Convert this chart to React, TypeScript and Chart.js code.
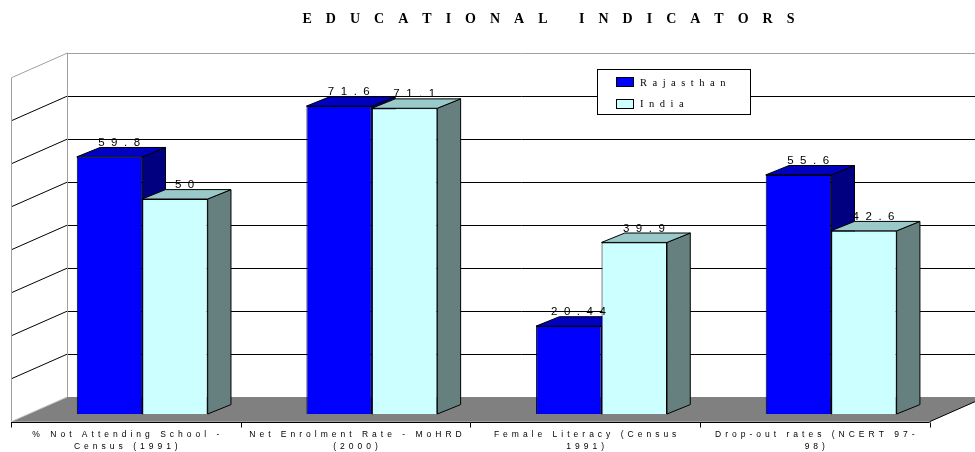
import React, { useEffect, useRef } from "react";
import { Chart, registerables } from "chart.js";

Chart.register(...registerables);

// ---------- data ----------
const TITLE = "EDUCATIONAL INDICATORS";
const CATEGORIES: string[][] = [
  ["% Not Attending School -", "Census (1991)"],
  ["Net Enrolment Rate - MoHRD", "(2000)"],
  ["Female Literacy (Census", "1991)"],
  ["Drop-out rates (NCERT 97-", "98)"],
];
const SERIES_NAMES = ["Rajasthan", "India"];
const RAJASTHAN = [59.8, 71.6, 20.44, 55.6];
const INDIA = [50, 71.1, 39.9, 42.6];
const Y_MIN = 0;
const Y_MAX = 80;
const Y_STEP = 10;

// ---------- styles / geometry ----------
const W = 975;
const H = 452;
const DEPTH = { dx: 23.3, dy: -9.4 }; // bar depth
const FRONT = { dx: -16.4, dy: 7.7 }; // floor front edge relative to bar plane
const BACK = { dx: 39.6, dy: -17 }; // back wall relative to bar plane
const FACES = [
  { front: "#0000FF", top: "#0000C0", side: "#000080" },
  { front: "#CCFFFF", top: "#99C9C9", side: "#668080" },
];
const SANS = "'Liberation Sans', Arial, sans-serif";
const SERIF = "'Liberation Serif', 'Times New Roman', serif";

function spacedWidth(ctx: CanvasRenderingContext2D, text: string, spacing: number) {
  const chars = Array.from(text);
  const widths = chars.map((c) => ctx.measureText(c).width);
  return { chars, widths, total: widths.reduce((a, b) => a + b, 0) + spacing * (chars.length - 1) };
}

function drawSpaced(
  ctx: CanvasRenderingContext2D,
  text: string,
  x: number,
  baseline: number,
  spacing: number,
  align: "left" | "center"
) {
  const { chars, widths, total } = spacedWidth(ctx, text, spacing);
  let xx = align === "center" ? x - total / 2 : x;
  ctx.textAlign = "left";
  ctx.textBaseline = "alphabetic";
  chars.forEach((c, i) => {
    ctx.fillText(c, xx, baseline);
    xx += widths[i] + spacing;
  });
}

function line(ctx: CanvasRenderingContext2D, x1: number, y1: number, x2: number, y2: number, color: string) {
  ctx.beginPath();
  ctx.strokeStyle = color;
  ctx.lineWidth = 1;
  ctx.moveTo(x1, y1);
  ctx.lineTo(x2, y2);
  ctx.stroke();
}

function poly(ctx: CanvasRenderingContext2D, pts: number[][], fill: string, stroke?: string) {
  ctx.beginPath();
  ctx.moveTo(pts[0][0], pts[0][1]);
  for (let i = 1; i < pts.length; i++) ctx.lineTo(pts[i][0], pts[i][1]);
  ctx.closePath();
  ctx.fillStyle = fill;
  ctx.fill();
  if (stroke) {
    ctx.strokeStyle = stroke;
    ctx.lineWidth = 1;
    ctx.stroke();
  }
}

const px = (v: number) => Math.round(v) + 0.5;

const scenePlugin = {
  id: "scene3d",
  beforeDatasetsDraw(chart: any) {
    const ctx: CanvasRenderingContext2D = chart.ctx;
    const area = chart.chartArea;
    const ys = chart.scales.y;
    const y0 = ys.getPixelForValue(Y_MIN);
    const yTop = ys.getPixelForValue(Y_MAX);
    const bl = area.left + BACK.dx;
    const fl = area.left + FRONT.dx;
    ctx.save();

    // floor
    poly(
      ctx,
      [
        [fl, y0 + FRONT.dy],
        [area.right + FRONT.dx, y0 + FRONT.dy],
        [area.right + BACK.dx, y0 + BACK.dy],
        [bl, y0 + BACK.dy],
      ],
      "#808080"
    );

    // gridlines on back and left walls
    for (let v = Y_MIN + Y_STEP; v <= Y_MAX; v += Y_STEP) {
      const yy = ys.getPixelForValue(v);
      const isTop = v === Y_MAX;
      const col = isTop ? "#a0a0a0" : "#000000";
      line(ctx, px(bl), px(yy + BACK.dy), W, px(yy + BACK.dy), col);
      line(ctx, px(bl), yy + BACK.dy, px(fl), yy + FRONT.dy, col);
    }
    // wall edges
    line(ctx, px(bl), yTop + BACK.dy, px(bl), y0 + BACK.dy, "#a0a0a0");
    line(ctx, px(fl), yTop + FRONT.dy, px(fl), y0 + FRONT.dy, "#a0a0a0");
    line(ctx, fl, y0 + FRONT.dy, bl, y0 + BACK.dy, "#c8c8c8");
    line(ctx, area.right + FRONT.dx, y0 + FRONT.dy, area.right + BACK.dx, y0 + BACK.dy, "#000000");

    // front axis line & ticks
    const fy = px(y0 + FRONT.dy);
    line(ctx, fl, fy, area.right + FRONT.dx, fy, "#000000");
    const n = CATEGORIES.length;
    const step = (area.right - area.left) / n;
    for (let i = 0; i <= n; i++) {
      const tx = px(area.left + i * step + FRONT.dx);
      line(ctx, tx, fy, tx, fy + 5, "#000000");
    }

    // 3D extrusions (top and side faces) of each bar
    for (let c = 0; c < n; c++) {
      chart.data.datasets.forEach((_: any, d: number) => {
        const el = chart.getDatasetMeta(d).data[c];
        if (!el) return;
        const { x, y, base, width } = el.getProps(["x", "y", "base", "width"], true);
        const l = x - width / 2;
        const r = x + width / 2;
        poly(
          ctx,
          [
            [r, base],
            [r, y],
            [r + DEPTH.dx, y + DEPTH.dy],
            [r + DEPTH.dx, base + DEPTH.dy],
          ],
          FACES[d].side,
          "#000000"
        );
        poly(
          ctx,
          [
            [l, y],
            [r, y],
            [r + DEPTH.dx, y + DEPTH.dy],
            [l + DEPTH.dx, y + DEPTH.dy],
          ],
          FACES[d].top,
          "#000000"
        );
      });
    }
    ctx.restore();
  },
  afterDatasetsDraw(chart: any) {
    const ctx: CanvasRenderingContext2D = chart.ctx;
    const xs = chart.scales.x;
    const ys = chart.scales.y;
    const y0 = ys.getPixelForValue(Y_MIN);
    ctx.save();

    // value labels
    ctx.fillStyle = "#000000";
    ctx.font = `11.5px ${SANS}`;
    chart.data.datasets.forEach((ds: any, d: number) => {
      chart.getDatasetMeta(d).data.forEach((el: any, i: number) => {
        const { x, y } = el.getProps(["x", "y"], true);
        drawSpaced(ctx, String(ds.data[i]), x + DEPTH.dx / 2 - 2, y + DEPTH.dy - 1.5, 6.5, "center");
      });
    });

    // category labels
    ctx.font = `8.5px ${SANS}`;
    CATEGORIES.forEach((lines, i) => {
      const cx = xs.getPixelForValue(i) + FRONT.dx;
      lines.forEach((t, k) => {
        drawSpaced(ctx, t, cx, y0 + FRONT.dy + 15 + k * 12.6, 4, "center");
      });
    });

    // legend
    const lx = 597.5;
    const ly = 69.5;
    ctx.fillStyle = "#ffffff";
    ctx.fillRect(lx, ly, 153, 45);
    ctx.strokeStyle = "#000000";
    ctx.lineWidth = 1;
    ctx.strokeRect(lx, ly, 153, 45);
    ctx.font = `10.5px ${SERIF}`;
    SERIES_NAMES.forEach((name, k) => {
      const sy = 77.5 + k * 22;
      ctx.fillStyle = FACES[k].front;
      ctx.fillRect(616.5, sy, 17, 9);
      ctx.strokeStyle = "#000000";
      ctx.strokeRect(616.5, sy, 17, 9);
      ctx.fillStyle = "#000000";
      drawSpaced(ctx, name, 640, 85.5 + k * 21.5, 5.5, "left");
    });

    // title
    ctx.font = `bold 14px ${SERIF}`;
    ctx.fillStyle = "#000000";
    drawSpaced(ctx, TITLE, 548.5, 22.5, 14, "center");
    ctx.restore();
  },
};

export default function App() {
  const ref = useRef<HTMLCanvasElement | null>(null);
  useEffect(() => {
    if (!ref.current) return;
    const chart = new Chart(ref.current, {
      type: "bar",
      data: {
        labels: CATEGORIES.map((c) => c.join(" ")),
        datasets: [
          {
            label: SERIES_NAMES[0],
            data: RAJASTHAN,
            backgroundColor: FACES[0].front,
            borderColor: "#000000",
            borderWidth: 1,
            categoryPercentage: 0.57,
            barPercentage: 1,
          },
          {
            label: SERIES_NAMES[1],
            data: INDIA,
            backgroundColor: FACES[1].front,
            borderColor: "#000000",
            borderWidth: 1,
            categoryPercentage: 0.57,
            barPercentage: 1,
          },
        ],
      },
      options: {
        responsive: false,
        animation: false,
        devicePixelRatio: 1,
        events: [],
        layout: { padding: { left: 27.4, right: 29, top: 70, bottom: 38 } },
        scales: {
          x: { display: false },
          y: { display: false, min: Y_MIN, max: Y_MAX, ticks: { stepSize: Y_STEP } },
        },
        plugins: {
          legend: { display: false },
          title: { display: false },
          tooltip: { enabled: false },
        },
      },
      plugins: [scenePlugin],
    });
    return () => chart.destroy();
  }, []);
  return (
    <div style={{ position: "absolute", left: 0, top: 0, width: W, height: H, background: "#fff" }}>
      <canvas ref={ref} width={W} height={H} style={{ display: "block" }} />
    </div>
  );
}
